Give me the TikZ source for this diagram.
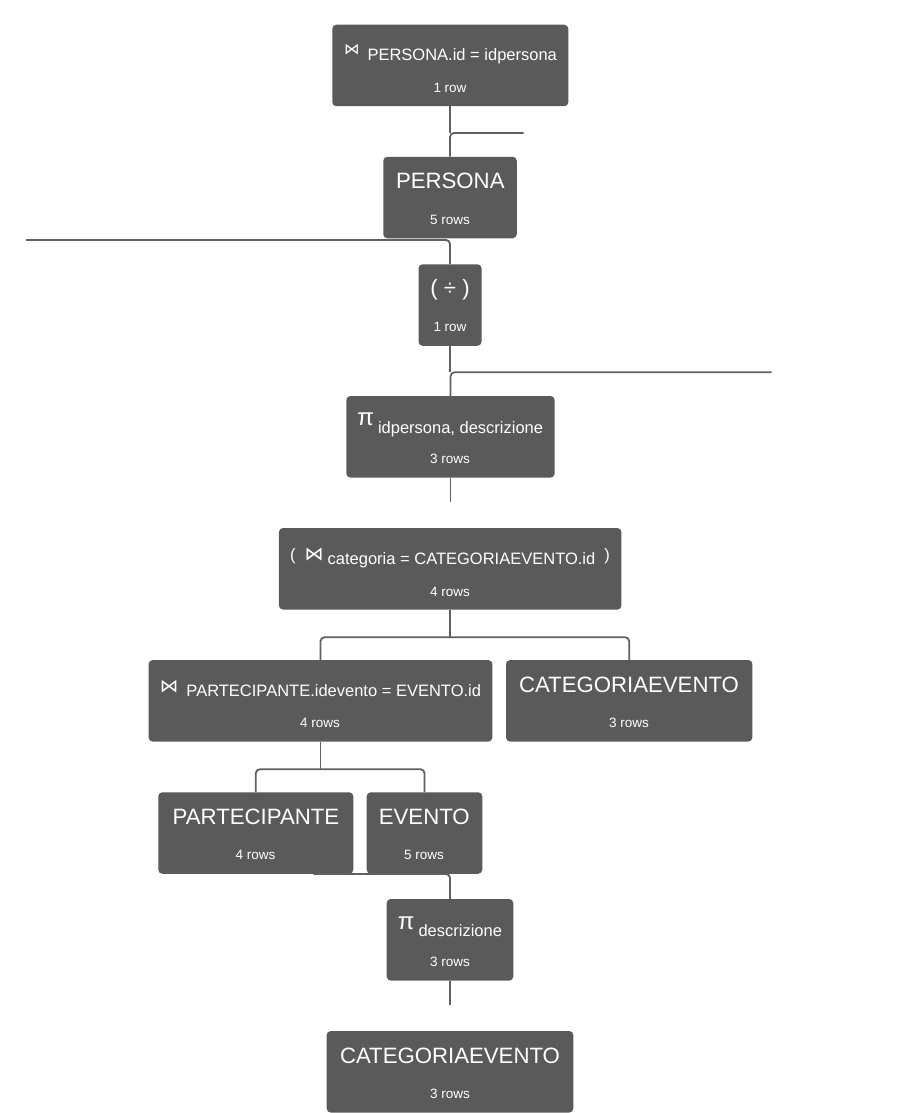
\documentclass[tikz,border=0pt]{standalone}
\usepackage{fontspec}
\setmainfont{Liberation Sans}
\newfontfamily\dvfont{DejaVu Sans}
\definecolor{boxgray}{HTML}{5A5A5A}
\definecolor{linegray}{HTML}{606060}
\newcommand\bigf{\fontsize{22.2}{24}\selectfont}
\newcommand\midf{\fontsize{16.5}{19}\selectfont}
\newcommand\smf{\fontsize{13.5}{15}\selectfont}
\newcommand\btie[1]{{\dvfont\fontsize{#1}{#1}\selectfont ⋈}}
\newcommand\pisym{{\fontsize{24}{24}\selectfont π}}
\tikzset{
  opbox/.style={fill=boxgray, draw=none, rounded corners=4pt, inner sep=0pt, minimum height=81.5},
  txt/.style={anchor=base, inner sep=0pt, text=white},
  conn/.style={draw=linegray, line width=1.8pt, rounded corners=4pt}
}
\begin{document}
\begin{tikzpicture}[x=1pt,y=-1pt]
\useasboundingbox (0,0) rectangle (901,1113);
\fill[white] (0,0) rectangle (901,1113);

% boxes
\node[opbox, minimum width=236] (n1) at (450.3,65.5) {};
\node[opbox, minimum width=133.5] (n2) at (450,197.5) {};
\node[opbox, minimum width=63] (n3) at (450,305) {};
\node[opbox, minimum width=208.3] (n4) at (450.5,436.8) {};
\node[opbox, minimum width=342.5] (n5) at (450.2,568.8) {};
\node[opbox, minimum width=343.7] (n6) at (320.5,700.8) {};
\node[opbox, minimum width=246.3] (n7) at (629.2,700.8) {};
\node[opbox, minimum width=195] (n8) at (255.8,833) {};
\node[opbox, minimum width=115.6] (n9) at (424.5,833) {};
\node[opbox, minimum width=126.6] (n10) at (450,939.8) {};
\node[opbox, minimum width=246.6] (n11) at (450,1071.8) {};

% titles
\node[txt] (n1t) at (450.5,61) {\raisebox{6pt}{\btie{15.5}}\hspace{8pt}\midf PERSONA.id = idpersona};
\node[txt] (n2t) at (450.3,188.8) {\bigf PERSONA};
\node[txt] (n3t) at (450,295.8) {\bigf ( ÷ )};
\node[txt] (n4t) at (450.3,433.3) {\raisebox{7.5pt}{\pisym}\hspace{4pt}\midf idpersona, descrizione};
\node[txt] (n5t) at (450,564) {\raisebox{4pt}{\midf(\hspace{9pt}\btie{19}}\hspace{4pt}\midf categoria = CATEGORIAEVENTO.id\hspace{9pt}\raisebox{4pt}{)}};
\node[txt] (n6t) at (320.5,696.7) {\raisebox{4pt}{\btie{18.5}}\hspace{8pt}\midf PARTECIPANTE.idevento = EVENTO.id};
\node[txt] (n7t) at (629,692.3) {\bigf CATEGORIAEVENTO};
\node[txt] (n8t) at (256,824.5) {\bigf PARTECIPANTE};
\node[txt] (n9t) at (424.3,824.5) {\bigf EVENTO};
\node[txt] (n10t) at (450,936.3) {\raisebox{6.5pt}{\pisym}\hspace{4pt}\midf descrizione};
\node[txt] (n11t) at (450,1063.5) {\bigf CATEGORIAEVENTO};

% row counts
\node[txt] (n1r) at (450,92.5) {\smf 1 row};
\node[txt] (n2r) at (450,224.5) {\smf 5 rows};
\node[txt] (n3r) at (450,331.8) {\smf 1 row};
\node[txt] (n4r) at (450,463.5) {\smf 3 rows};
\node[txt] (n5r) at (450,596) {\smf 4 rows};
\node[txt] (n6r) at (320,727.5) {\smf 4 rows};
\node[txt] (n7r) at (629,727.5) {\smf 3 rows};
\node[txt] (n8r) at (255.5,859.5) {\smf 4 rows};
\node[txt] (n9r) at (424,859.5) {\smf 5 rows};
\node[txt] (n10r) at (450,966.5) {\smf 3 rows};
\node[txt] (n11r) at (450,1098.5) {\smf 3 rows};

% free ends of connectors
\coordinate (c1e) at (523.5,133);
\coordinate (c2w) at (26,240);
\coordinate (c3e) at (771.5,372.3);
\path (n4.south) ++(0,24.5) coordinate (c4);
\path (n5.south) ++(0,27.5) coordinate (c5);
\path (n6.south) ++(0,27.5) coordinate (c6);
\coordinate (c7w) at (313.3,874);
\path (n10.south) ++(0,24.5) coordinate (c8);

% connectors
\draw[conn] (n1.south) -- (n1.south |- c1e);
\draw[conn] (c1e) -| (n2.north);
\draw[conn] (c2w) -| (n3.north);
\draw[conn] (n3.south) -- (n3.south |- c3e);
\draw[conn] (c3e) -| (n4.north);
\draw[conn] (n4.south) -- (c4);
\draw[conn] (n5.south) -- (c5);
\draw[conn] (n6.north) |- (c5) -| (n7.north);
\draw[conn] (n6.south) -- (c6);
\draw[conn] (n8.north) |- (c6) -| (n9.north);
\draw[conn] (c7w) -| (n10.north);
\draw[conn] (n10.south) -- (c8);
\end{tikzpicture}
\end{document}
